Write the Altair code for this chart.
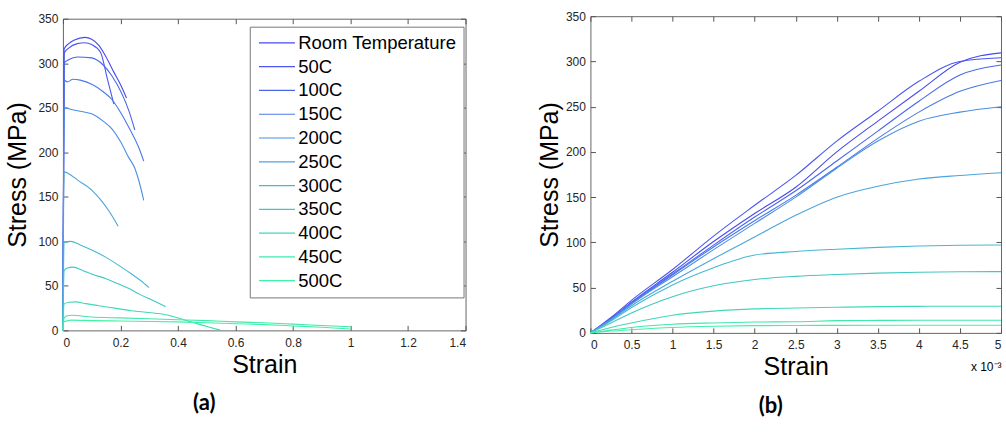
import altair as alt
import pandas as pd

FONT = "Liberation Sans"

TEMPS = ["Room Temperature", "50C", "100C", "150C", "200C", "250C",
         "300C", "350C", "400C", "450C", "500C"]
COLORS = ["#4848f0", "#4a58ee", "#4a66ea", "#4a78e6", "#4c8ee2", "#4ca4de",
          "#46b8d4", "#40c8c4", "#40d8b8", "#40e8ac", "#40f2a4"]

Y_TICKS = [0, 50, 100, 150, 200, 250, 300, 350]
A_X_TICKS = [0, 0.2, 0.4, 0.6, 0.8, 1.0, 1.2, 1.4]
B_X_TICKS = [0, 0.5, 1, 1.5, 2, 2.5, 3, 3.5, 4, 4.5, 5]

# ---- panel (a): full curves (strain, stress in MPa)
A_RT_STRAIN = [0, 0.004, 0.02, 0.04, 0.076, 0.1, 0.125, 0.15, 0.177, 0.2, 0.221]
A_RT_STRESS = [0, 316, 322, 326, 329, 327, 320, 307, 290, 276, 261]
A_50_STRAIN = [0, 0.004, 0.02, 0.05, 0.076, 0.1, 0.131, 0.154, 0.177]
A_50_STRESS = [0, 311, 317, 322, 323, 321, 312, 283, 254]
A_100_STRAIN = [0, 0.004, 0.02, 0.05, 0.1, 0.14, 0.17, 0.206, 0.23, 0.25]
A_100_STRESS = [0, 300, 304, 307, 306, 298, 286, 265, 246, 225]
A_150_STRAIN = [0, 0.004, 0.015, 0.035, 0.06, 0.102, 0.14, 0.171, 0.2, 0.229, 0.264, 0.281]
A_150_STRESS = [0, 281, 279, 282, 281, 276, 268, 259, 245, 228, 205, 190]
A_200_STRAIN = [0, 0.004, 0.03, 0.06, 0.102, 0.14, 0.171, 0.2, 0.229, 0.25, 0.264, 0.281]
A_200_STRESS = [0, 250, 248, 246, 243, 235, 226, 212, 194, 182, 168, 146]
A_250_STRAIN = [0, 0.004, 0.02, 0.05, 0.102, 0.13, 0.16, 0.192]
A_250_STRESS = [0, 178, 176, 169, 157, 147, 134, 117]
A_300_STRAIN = [0, 0.004, 0.027, 0.06, 0.102, 0.15, 0.194, 0.24, 0.27, 0.299]
A_300_STRESS = [0, 99, 100, 96, 90, 82, 73, 63, 56, 48]
A_350_STRAIN = [0, 0.004, 0.015, 0.035, 0.07, 0.102, 0.15, 0.194, 0.23, 0.264, 0.31, 0.357]
A_350_STRESS = [0, 67, 70, 71, 67, 63, 58, 52, 47, 41, 34, 26.6]
A_400_STRAIN = [0, 0.004, 0.02, 0.044, 0.08, 0.125, 0.18, 0.24, 0.3, 0.357, 0.42, 0.472, 0.51, 0.547]
A_400_STRESS = [0, 29.5, 31.5, 32, 30, 27.7, 25, 22, 20, 17.6, 12, 7, 3.5, 0.3]
A_450_STRAIN = [0, 0.004, 0.015, 0.03, 0.1, 0.2, 0.3, 0.4, 0.5, 0.6, 0.7, 0.8, 0.9, 1.0]
A_450_STRESS = [0, 14, 16.5, 17, 15, 14, 13, 12, 11, 9.5, 8.5, 7, 5.5, 4]
A_500_STRAIN = [0, 0.004, 0.03, 0.1, 0.2, 0.3, 0.4, 0.5, 0.6, 0.7, 0.8, 0.9, 1.0]
A_500_STRESS = [0, 9.7, 11.5, 11, 10.5, 10, 9.5, 8.5, 7.5, 6.5, 5, 3.5, 1.5]

# ---- panel (b): initial part, strain in units of 1e-3
B_STRAIN = [0, 0.25, 0.5, 1.0, 1.5, 2.0, 2.5, 3.0, 3.5, 4.0, 4.5, 5.0]
B_RT = [0, 16, 34, 67, 101, 132, 161, 200, 234, 267, 299, 309.5]
B_50 = [0, 17, 36, 70, 107, 141, 174, 212, 245, 278, 300, 304]
B_100 = [0, 15, 33, 65, 97, 128, 157, 190, 223, 256, 285, 296]
B_150 = [0, 15, 32, 64, 95, 124, 152, 183, 215, 244, 267, 279]
B_200 = [0, 15, 32, 62, 92, 121, 150, 182, 212, 234, 244, 250]
B_250 = [0, 14, 30, 57, 82, 106, 130, 150, 162, 170, 174, 177]
B_300 = [0, 13, 28, 53, 72, 86, 90, 92.5, 94.5, 96, 96.8, 97.2]
B_350 = [0, 11, 22, 40, 52, 59, 62.5, 64.5, 66, 67, 67.5, 67.7]
B_400 = [0, 6, 11, 19.5, 24, 26.5, 27.5, 28.3, 29, 29.3, 29.5, 29.5]
B_450 = [0, 3, 6, 9.5, 11, 12, 12.3, 13.5, 13.8, 14, 14, 14]
B_500 = [0, 2, 3.5, 6, 7.3, 8, 8.2, 8.3, 8.4, 8.5, 8.5, 8.5]

A_SERIES = [(A_RT_STRAIN, A_RT_STRESS), (A_50_STRAIN, A_50_STRESS), (A_100_STRAIN, A_100_STRESS),
            (A_150_STRAIN, A_150_STRESS), (A_200_STRAIN, A_200_STRESS), (A_250_STRAIN, A_250_STRESS),
            (A_300_STRAIN, A_300_STRESS), (A_350_STRAIN, A_350_STRESS), (A_400_STRAIN, A_400_STRESS),
            (A_450_STRAIN, A_450_STRESS), (A_500_STRAIN, A_500_STRESS)]
B_SERIES = [B_RT, B_50, B_100, B_150, B_200, B_250, B_300, B_350, B_400, B_450, B_500]

rows_a = []
for name, (xs, ys) in zip(TEMPS, A_SERIES):
    for x, y in zip(xs, ys):
        rows_a.append({"series": name, "strain": x, "stress": y})
df_a = pd.DataFrame(rows_a)

rows_b = []
for name, ys in zip(TEMPS, B_SERIES):
    for x, y in zip(B_STRAIN, ys):
        rows_b.append({"series": name, "strain": x, "stress": y})
df_b = pd.DataFrame(rows_b)

TICK = 5


def panel(df, xdom, xticks, w, h, legend, label, label_dx, y_title_pad, extra_title=None):
    xs = alt.Scale(domain=xdom, nice=False, zero=False)
    ys = alt.Scale(domain=[0, 350], nice=False, zero=False)
    color = alt.Color("series:N", scale=alt.Scale(domain=TEMPS, range=COLORS),
                      sort=TEMPS, legend=legend)
    lines = alt.Chart(df).mark_line(strokeWidth=1.1, interpolate="monotone").encode(
        x=alt.X("strain:Q", scale=xs,
                axis=alt.Axis(orient="bottom", values=xticks, format="~g", tickSize=0,
                              domain=False, grid=False, labelPadding=7,
                              title="Strain", titlePadding=4)),
        y=alt.Y("stress:Q", scale=ys,
                axis=alt.Axis(orient="left", values=Y_TICKS, tickSize=0, domain=False,
                              grid=False, labelPadding=5, title="Stress (MPa)",
                              titlePadding=y_title_pad)),
        color=color,
    )
    bottom_axis = dict(orient="bottom", offset=-TICK, tickSize=TICK, labels=False,
                       domain=False, grid=False, values=xticks)
    if extra_title:
        bottom_axis.update(title=extra_title, titleX=w, titleY=TICK + 38,
                           titleAlign="right", titleBaseline="alphabetic",
                           titleFontSize=12, titleAngle=0)
    else:
        bottom_axis.update(title=None)
    inner = alt.Chart(df).mark_point(opacity=0).encode(
        x=alt.X("strain:Q", scale=xs, axis=alt.Axis(**bottom_axis)),
        y=alt.Y("stress:Q", scale=ys,
                axis=alt.Axis(orient="left", offset=-TICK, tickSize=TICK, labels=False,
                              domain=False, grid=False, values=Y_TICKS, title=None)),
    )
    opp = alt.Chart(df).mark_point(opacity=0).encode(
        x=alt.X("strain:Q", scale=xs,
                axis=alt.Axis(orient="top", offset=-TICK, tickSize=TICK, labels=False,
                              domain=False, grid=False, values=xticks, title=None)),
        y=alt.Y("stress:Q", scale=ys,
                axis=alt.Axis(orient="right", offset=-TICK, tickSize=TICK, labels=False,
                              domain=False, grid=False, values=Y_TICKS, title=None)),
    )
    return alt.layer(lines, inner, opp).resolve_axis(
        x="independent", y="independent"
    ).properties(
        width=w, height=h,
        title=alt.TitleParams(text=label, orient="bottom", anchor="middle", frame="group",
                              dx=label_dx, offset=16, fontSize=22, fontWeight="bold",
                              font="Lato", color="black"),
    )


legend_a = alt.Legend(
    orient="none", legendX=187, legendY=8, title=None,
    strokeColor="#777777", fillColor="white", padding=7,
    labelFont=FONT, labelFontSize=18.5, labelColor="black", labelLimit=400,
    symbolType="M-3.6,0H3.6", symbolSize=100, symbolStrokeWidth=1.2,
    symbolOffset=11, labelOffset=12, rowPadding=4.8,
)

left = panel(df_a, [0, 1.4], A_X_TICKS, 403, 312, legend_a, "(a)", -60, 7)
right = panel(df_b, [0, 5], B_X_TICKS, 411, 317, None, "(b)", -25, 3,
              extra_title="x 10\u207b\u00b3")

chart = alt.hconcat(left, right, spacing=125, bounds="flush", center=True).resolve_scale(
    color="independent"
).configure(
    padding={"left": 5, "top": 9, "right": 1, "bottom": 5},
    font=FONT,
).configure_view(
    stroke="#666666", strokeWidth=1,
).configure_axis(
    labelFont=FONT, labelFontSize=12, labelColor="#262626",
    titleFont=FONT, titleFontSize=25, titleFontWeight="normal", titleColor="black",
    tickColor="#555555",
)

chart.save("out.html", embed_options={"renderer": "svg", "actions": False})
